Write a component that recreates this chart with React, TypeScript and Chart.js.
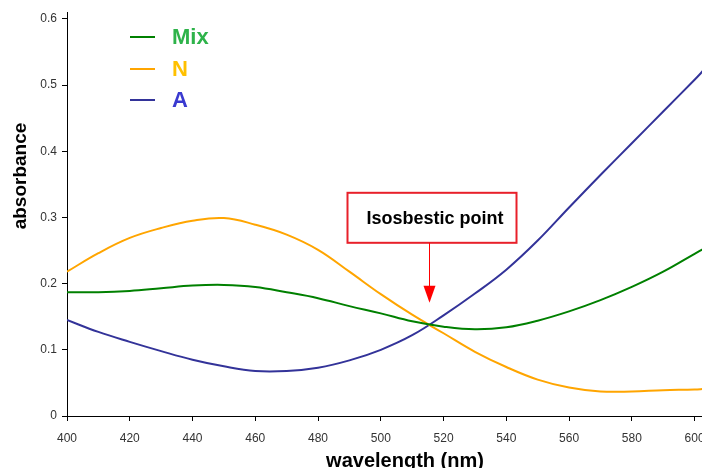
import React, { useEffect, useRef } from "react";
import { Chart, registerables } from "chart.js";

Chart.register(...registerables);

const wavelengths = [400, 410, 420, 430, 440, 450, 460, 470, 480, 490, 500, 510, 520, 530, 540, 550, 560, 570, 580, 590, 600, 603];
const mixValues = [0.187, 0.187, 0.189, 0.193, 0.197, 0.198, 0.195, 0.187, 0.178, 0.166, 0.155, 0.143, 0.135, 0.131, 0.134, 0.144, 0.158, 0.175, 0.195, 0.218, 0.245, 0.253];
const nValues = [0.218, 0.246, 0.269, 0.284, 0.295, 0.299, 0.289, 0.274, 0.251, 0.218, 0.184, 0.153, 0.125, 0.097, 0.074, 0.055, 0.043, 0.037, 0.037, 0.039, 0.040, 0.041];
const aValues = [0.145, 0.127, 0.112, 0.098, 0.085, 0.075, 0.068, 0.068, 0.073, 0.084, 0.100, 0.122, 0.152, 0.185, 0.221, 0.265, 0.315, 0.364, 0.412, 0.460, 0.508, 0.523];

const xTicks = [400, 420, 440, 460, 480, 500, 520, 540, 560, 580, 600];
const yTicks = [0, 0.1, 0.2, 0.3, 0.4, 0.5, 0.6];

const seriesNames = ["Mix", "N", "A"];
const lineColors = ["#008000", "#ffa500", "#333399"];
const legendTextColors = ["#2eb34a", "#ffc000", "#3a3ad0"];

const xTitle = "wavelength (nm)";
const yTitle = "absorbance";
const annotationText = "Isosbestic point";
const isosbesticWavelength = 515.5;
const arrowTipValue = 0.171;

const FONT = "Arial, 'Liberation Sans', sans-serif";

const overlayPlugin = {
  id: "overlay",
  afterDraw(chart: any) {
    const ctx = chart.ctx;
    const xs = chart.scales.x;
    const ys = chart.scales.y;
    ctx.save();

    // Legend
    const legendY = [37, 69, 100];
    seriesNames.forEach((name, i) => {
      ctx.strokeStyle = lineColors[i];
      ctx.lineWidth = 2;
      ctx.beginPath();
      ctx.moveTo(130, legendY[i]);
      ctx.lineTo(155, legendY[i]);
      ctx.stroke();
      ctx.fillStyle = legendTextColors[i];
      ctx.font = `bold 22px ${FONT}`;
      ctx.textAlign = "left";
      ctx.textBaseline = "middle";
      ctx.fillText(name, 172, legendY[i] + 1);
    });

    // Axis titles
    ctx.fillStyle = "#000";
    ctx.font = `bold 20px ${FONT}`;
    ctx.textAlign = "center";
    ctx.textBaseline = "middle";
    ctx.fillText(xTitle, 405, 461);
    ctx.font = `bold 19px ${FONT}`;
    ctx.save();
    ctx.translate(21, 176);
    ctx.rotate(-Math.PI / 2);
    ctx.fillText(yTitle, 0, 0);
    ctx.restore();

    // Annotation
    const ax = Math.round(xs.getPixelForValue(isosbesticWavelength)) + 0.5;
    const tipY = ys.getPixelForValue(arrowTipValue);
    const boxL = ax - 82;
    const boxR = ax + 87;
    const boxT = tipY - 110;
    const boxB = tipY - 60;
    ctx.fillStyle = "#fff";
    ctx.fillRect(boxL, boxT, boxR - boxL, boxB - boxT);
    ctx.strokeStyle = "#e8202a";
    ctx.lineWidth = 2;
    ctx.strokeRect(boxL, boxT, boxR - boxL, boxB - boxT);
    ctx.fillStyle = "#000";
    ctx.font = `bold 18px ${FONT}`;
    ctx.textAlign = "center";
    ctx.textBaseline = "middle";
    ctx.fillText(annotationText, (boxL + boxR) / 2 + 3, (boxT + boxB) / 2 + 1);

    ctx.strokeStyle = "#ff0000";
    ctx.lineWidth = 1;
    ctx.beginPath();
    ctx.moveTo(ax, boxB);
    ctx.lineTo(ax, tipY - 15);
    ctx.stroke();
    ctx.fillStyle = "#ff0000";
    ctx.beginPath();
    ctx.moveTo(ax - 6, tipY - 17);
    ctx.lineTo(ax + 6, tipY - 17);
    ctx.lineTo(ax, tipY);
    ctx.closePath();
    ctx.fill();

    ctx.restore();
  },
};

export default function App() {
  const canvasRef = useRef<HTMLCanvasElement | null>(null);

  useEffect(() => {
    if (!canvasRef.current) return;
    const mk = (vals: number[]) => wavelengths.map((w, i) => ({ x: w, y: vals[i] }));
    const seriesData = [mixValues, nValues, aValues];
    const chart = new Chart(canvasRef.current, {
      type: "line",
      data: {
        datasets: seriesNames.map((name, i) => ({
          label: name,
          data: mk(seriesData[i]),
          borderColor: lineColors[i],
          backgroundColor: lineColors[i],
          borderWidth: 2,
          pointRadius: 0,
          tension: 0.4,
          fill: false,
        })),
      },
      options: {
        responsive: false,
        animation: false,
        devicePixelRatio: 1,
        layout: { padding: { left: 0, right: 26, top: 12, bottom: 0 } },
        plugins: {
          legend: { display: false },
          tooltip: { enabled: false },
        },
        scales: {
          x: {
            type: "linear",
            min: 400,
            max: 603,
            afterFit: (s: any) => { s.height = 52; },
            afterBuildTicks: (s: any) => { s.ticks = xTicks.map((v) => ({ value: v })); },
            grid: { drawOnChartArea: false, drawTicks: true, tickLength: 5, tickColor: "#000" },
            border: { display: true, color: "#000", width: 1 },
            ticks: {
              color: "#333",
              font: { family: FONT, size: 12 },
              padding: 10,
              maxRotation: 0,
              autoSkip: false,
              callback: (v: any) => String(v),
            },
          },
          y: {
            type: "linear",
            min: 0,
            max: 0.61,
            afterFit: (s: any) => { s.width = 67; },
            afterBuildTicks: (s: any) => { s.ticks = yTicks.map((v) => ({ value: v })); },
            grid: { drawOnChartArea: false, drawTicks: true, tickLength: 5, tickColor: "#000" },
            border: { display: true, color: "#000", width: 1 },
            ticks: {
              color: "#333",
              font: { family: FONT, size: 12 },
              padding: 5,
              autoSkip: false,
              callback: (v: any) => String(Math.round(Number(v) * 10) / 10),
            },
          },
        },
      },
      plugins: [overlayPlugin],
    });
    return () => chart.destroy();
  }, []);

  return (
    <div style={{ position: "fixed", left: 0, top: 0, width: 702, height: 468, overflow: "hidden", background: "#fff" }}>
      <canvas ref={canvasRef} width={730} height={468} style={{ display: "block" }} />
    </div>
  );
}
